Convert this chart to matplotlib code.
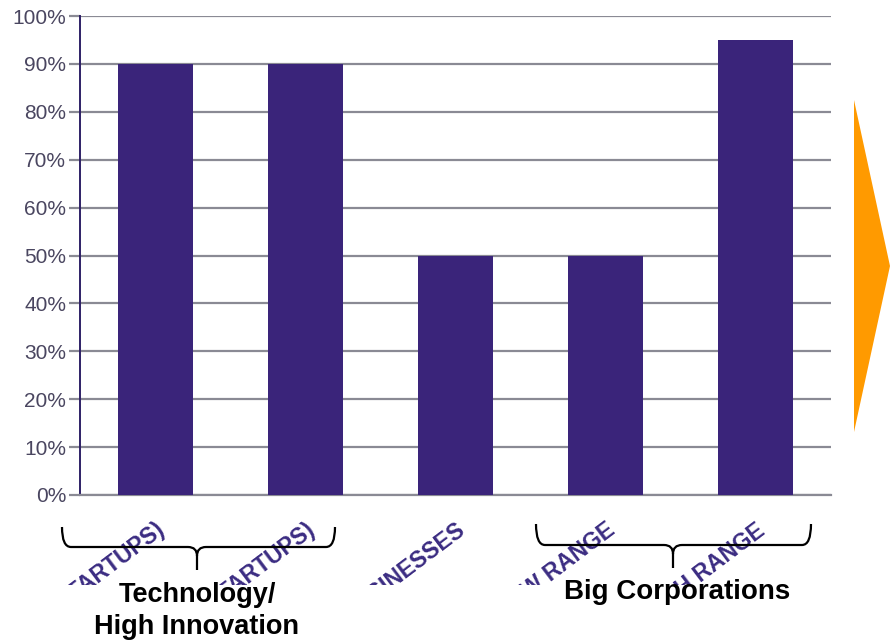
import matplotlib
matplotlib.use("Agg")
import matplotlib.pyplot as plt
from matplotlib.path import Path
from matplotlib.patches import PathPatch, Polygon
from matplotlib.transforms import Bbox
import numpy as np

plt.rcParams['font.family'] = ['Liberation Sans', 'DejaVu Sans']

# data
categories = ['SMALL (STARTUPS)', 'MEDIUM (STARTUPS)', 'SMALL BUSINESSES',
              'LOW RANGE', 'HIGH RANGE']
values = [90, 90, 50, 50, 95]
yticks = np.arange(0, 101, 10)
group_labels = ['Technology/\nHigh Innovation', 'Big Corporations']

bar_color = '#3a247a'
grid_color = '#8a8a94'
label_color = '#3b2c82'

fig = plt.figure(figsize=(8.9, 6.44), dpi=100)
ax = fig.add_axes([80 / 890, 1 - 495 / 644, 751 / 890, 479 / 644])

x = np.arange(len(categories))
ax.bar(x, values, width=0.5, color=bar_color, zorder=3)
ax.set_xlim(-0.5, len(categories) - 0.5)
ax.set_ylim(0, 100)
ax.set_yticks(yticks)
ax.set_yticklabels(['%d%%' % v for v in yticks], fontsize=15, color='#4a4660')
ax.yaxis.grid(True, color=grid_color, linewidth=1.6, zorder=0)
ax.tick_params(axis='y', length=8, width=1.6, color=grid_color, pad=2)
ax.tick_params(axis='x', length=0)
for s in ['top', 'right']:
    ax.spines[s].set_visible(False)
ax.spines['left'].set_color('#2e2066')
ax.spines['left'].set_linewidth(1.4)
ax.spines['bottom'].set_color(grid_color)
ax.spines['bottom'].set_linewidth(1.6)

ax.set_xticks(x)
labels = ax.set_xticklabels(categories, rotation=37, ha='right',
                            rotation_mode='anchor', fontsize=16.5,
                            color=label_color, fontweight='bold')
ax.tick_params(axis='x', pad=17)
# the labels are cut off along the bottom like in the original slide
clip = Bbox.from_extents(0, 644 - 585, 890, 644)
for t in labels:
    t.set_clip_box(clip)
    t.set_clip_on(True)

# overlay in pixel coordinates for the braces, captions and the arrow
ov = fig.add_axes([0, 0, 1, 1], zorder=5)
ov.set_xlim(0, 890)
ov.set_ylim(644, 0)
ov.axis('off')
ov.patch.set_alpha(0)


def brace(x0, x1, xm, ytop, yh, ybot):
    r = 9
    verts = [(x0, ytop), (x0, yh), (x0 + r, yh),
             (xm - r, yh), (xm, yh), (xm, yh + r),
             (xm, ybot),
             (xm, yh + r), (xm, yh), (xm + r, yh),
             (x1 - r, yh), (x1, yh), (x1, ytop)]
    codes = [Path.MOVETO, Path.CURVE3, Path.CURVE3,
             Path.LINETO, Path.CURVE3, Path.CURVE3,
             Path.LINETO,
             Path.MOVETO, Path.CURVE3, Path.CURVE3,
             Path.LINETO, Path.CURVE3, Path.CURVE3]
    ov.add_patch(PathPatch(Path(verts, codes), fill=False, lw=1.6,
                           edgecolor='black'))


brace(62, 335, 197, 527, 547, 570)
brace(536, 811, 673, 524, 545, 568)

ov.text(197, 611, group_labels[0], ha='center', va='center', fontsize=19.5,
        fontweight='bold', color='black', linespacing=1.3)
ov.text(677, 592, group_labels[1], ha='center', va='center', fontsize=20,
        fontweight='bold', color='black')

ov.add_patch(Polygon([(854, 100), (890, 266), (854, 432)], closed=True,
                     facecolor='#ff9a00', edgecolor='none'))

fig.savefig('out.png', dpi=100)
